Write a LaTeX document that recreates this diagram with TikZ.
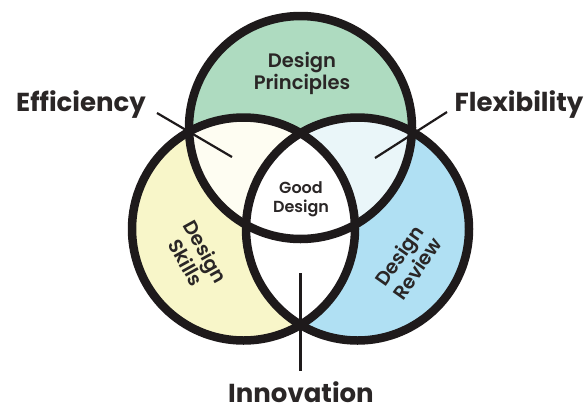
\documentclass[tikz,border=0pt]{standalone}
\usepackage{fontspec}
\setmainfont{Poppins}
\newfontfamily\medfont{Poppins SemiBold}
\definecolor{strokec}{HTML}{1E1A1B}
\definecolor{textc}{HTML}{2A2626}
\definecolor{greenc}{HTML}{AEDBC0}
\definecolor{yellowc}{HTML}{F8F6C9}
\definecolor{bluec}{HTML}{B0E0F3}
\definecolor{creamc}{HTML}{FEFDF2}
\definecolor{paleblue}{HTML}{EAF6F9}
\begin{document}
\begin{tikzpicture}[x=1pt,y=-1pt,
  ring/.style={draw=strokec,line width=8.5pt},
  leader/.style={draw=strokec,line width=2.2pt},
  outerlabel/.style={font=\bfseries\fontsize{26}{30}\selectfont,text=textc,inner sep=0pt},
  innerlabel/.style={font=\medfont\fontsize{19.5}{22}\selectfont,text=textc,align=center,inner sep=0pt},
  centerlabel/.style={font=\medfont\fontsize{16}{19}\selectfont,text=textc,align=center,inner sep=0pt}]
\useasboundingbox (0,0) rectangle (588,410);
\def\R{111.5pt}
\coordinate (T) at (300.5,127.5);
\coordinate (L) at (243.5,229);
\coordinate (Rc) at (357.5,229);
% fills
\fill[greenc] (T) circle[radius=\R];
\fill[yellowc] (L) circle[radius=\R];
\fill[bluec] (Rc) circle[radius=\R];
\begin{scope}
  \clip (T) circle[radius=\R];
  \fill[creamc] (L) circle[radius=\R];
  \fill[paleblue] (Rc) circle[radius=\R];
\end{scope}
\begin{scope}
  \clip (L) circle[radius=\R];
  \fill[white] (Rc) circle[radius=\R];
\end{scope}
% rings
\draw[ring] (T) circle[radius=\R];
\draw[ring] (L) circle[radius=\R];
\draw[ring] (Rc) circle[radius=\R];
% inner labels
\node[innerlabel] (dp) at (302,73) {Design\\Principles};
\node[centerlabel] (gd) at (301,199) {Good\\Design};
\node[innerlabel,rotate=-61] (ds) at (196,257) {Design\\Skills};
\node[innerlabel,rotate=55] (dr) at (408,262) {Design\\Review};
% outer labels
\node[outerlabel] (eff) at (81,105) {Efficiency};
\node[outerlabel] (flex) at (519,105) {Flexibility};
\node[outerlabel] (inn) at (301,392) {Innovation};
% leaders
\coordinate (effA) at (157,113);
\coordinate (effB) at (232,157);
\coordinate (flexA) at (447,112);
\coordinate (flexB) at (375,158);
\coordinate (innA) at (300.5,273);
\coordinate (innB) at (300.5,371);
\draw[leader] (effA) -- (effB);
\draw[leader] (flexA) -- (flexB);
\draw[leader] (innA) -- (innB);
\end{tikzpicture}
\end{document}
